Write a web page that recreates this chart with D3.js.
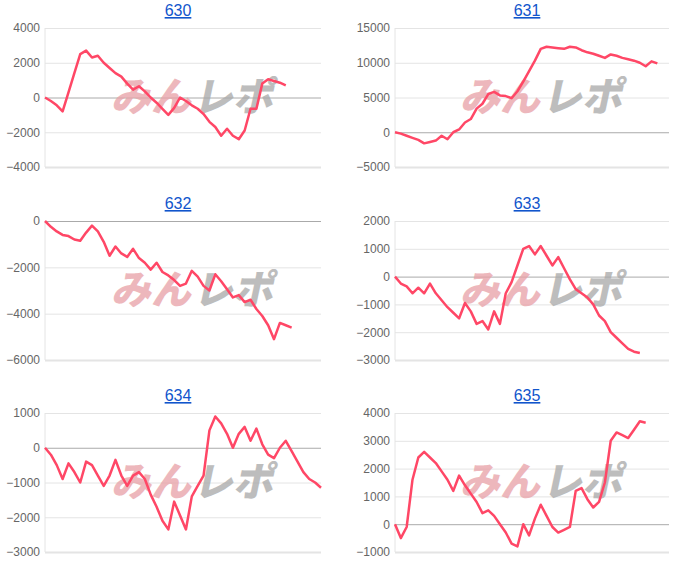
<!DOCTYPE html>
<html>
<head>
<meta charset="utf-8">
<script src="https://cdn.jsdelivr.net/npm/d3@7"></script>
<style>
body { margin: 0; background: #fff; font-family: Arial, "Liberation Sans", sans-serif; }
.title { fill: #1155cc; font-size: 16px; text-decoration: underline; }
.tick text { fill: #666; font-size: 12px; font-family: Arial, "Liberation Sans", sans-serif; }
</style>
</head>
<body>
<div class="container"></div>
<script>
const WIDTH = 700;
const HEIGHT = 576;
const STEPS = 47;

var titles = ["630", "631", "632", "633", "634", "635"];

var ticks630 = [-4000, -2000, 0, 2000, 4000];
var ticks631 = [-5000, 0, 5000, 10000, 15000];
var ticks632 = [-6000, -4000, -2000, 0];
var ticks633 = [-3000, -2000, -1000, 0, 1000, 2000];
var ticks634 = [-3000, -2000, -1000, 0, 1000];
var ticks635 = [-1000, 0, 1000, 2000, 3000, 4000];

var data630 = [0, -200, -450, -800, 300, 1400, 2500, 2700, 2300, 2400, 2000, 1700, 1400, 1200, 800, 450,
    650, 350, 0, -300, -650, -1000, -600, 0, -200, -450, -650, -950, -1400, -1700, -2200, -1800, -2200,
    -2400, -1900, -650, -650, 800, 1050, 950, 850, 700];
var data631 = [0, -200, -500, -800, -1100, -1600, -1400, -1200, -500, -1000, 0, 400, 1400, 1900, 3400, 4100,
    5500, 5800, 5300, 5200, 4900, 5900, 7300, 8800, 10300, 12000, 12300, 12200, 12100, 12000, 12300, 12200,
    11800, 11500, 11300, 11000, 10700, 11200, 11000, 10700, 10500, 10300, 10000, 9500, 10200, 9900];
var data632 = [0, -250, -450, -600, -650, -800, -850, -500, -200, -450, -900, -1500, -1100, -1400, -1550,
    -1200, -1600, -1800, -2100, -1800, -2200, -2350, -2550, -2800, -2700, -2150, -2400, -2800, -3000, -2300,
    -2600, -2950, -3300, -3200, -3500, -3400, -3800, -4100, -4500, -5100, -4400, -4500, -4600];
var data633 = [0, -250, -350, -600, -400, -600, -250, -600, -850, -1100, -1300, -1500, -950, -1250, -1700,
    -1600, -1900, -1250, -1700, -600, -200, 400, 1000, 1100, 800, 1100, 750, 400, 700, 300, -100, -450, -600,
    -750, -1000, -1400, -1600, -2000, -2200, -2400, -2600, -2700, -2750];
var data634 = [0, -200, -500, -900, -450, -700, -1000, -400, -500, -800, -1100, -800, -350, -800, -1100, -800,
    -700, -900, -1350, -1700, -2100, -2350, -1550, -1950, -2350, -1400, -1100, -800, 500, 900, 700, 400, 0, 400, 600,
    200, 550, 100, -200, -300, 0, 200, -100, -400, -700, -900, -1000, -1150];
var data635 = [0, -500, -100, 1600, 2400, 2600, 2400, 2200, 1900, 1600, 1200, 1750, 1400, 1100, 800, 400, 500,
    300, 0, -300, -700, -800, 0, -400, 200, 700, 300, -100, -300, -200, -100, 1200, 1300, 900, 600, 800, 1500,
    3000, 3300, 3200, 3100, 3400, 3700, 3650];

var panels = [
    { title: titles[0], data: data630, ticks: ticks630, x: 45, y: 28, w: 276 },
    { title: titles[1], data: data631, ticks: ticks631, x: 395, y: 28, w: 274 },
    { title: titles[2], data: data632, ticks: ticks632, x: 45, y: 221, w: 276 },
    { title: titles[3], data: data633, ticks: ticks633, x: 395, y: 221, w: 274 },
    { title: titles[4], data: data634, ticks: ticks634, x: 45, y: 413, w: 276 },
    { title: titles[5], data: data635, ticks: ticks635, x: 395, y: 413, w: 274 }
];
var PH = 139;

var svg = d3.select('.container').append('svg')
    .attr('width', WIDTH)
    .attr('height', HEIGHT);

panels.forEach(function (p) {
    var xScale = d3.scaleLinear().domain([0, STEPS]).range([0, p.w]);
    var yScale = d3.scaleLinear().domain(d3.extent(p.ticks)).range([PH, 0]);
    var g = svg.append('g').attr('transform', 'translate(' + p.x + ',' + p.y + ')');

    g.append('text').attr('class', 'title')
        .attr('x', p.w / 2 - 5).attr('y', -12)
        .attr('text-anchor', 'middle')
        .text(p.title);

    var yAxis = d3.axisLeft(yScale).tickValues(p.ticks).tickSize(-p.w).tickPadding(5)
        .tickFormat(d3.format('d'));
    var ax = g.append('g').call(yAxis);
    ax.select('.domain').remove();
    ax.selectAll('.tick line')
        .attr('stroke', function (d) { return d === 0 ? '#aaa' : '#e4e4e4'; })
        .attr('stroke-width', function (d, i) { return i === 0 ? 2 : 1; });
    g.append('line').attr('x1', 0).attr('x2', 0).attr('y1', 0).attr('y2', PH)
        .attr('stroke', '#e4e4e4');

    // watermark
    var wm = g.append('g').attr('transform', 'translate(' + (p.w / 2 + 8) + ',' + (PH / 2 + 13) + ') skewX(-12)')
        .attr('font-size', 40).attr('font-weight', 900)
        .attr('font-family', '"Noto Sans CJK JP", sans-serif')
        .attr('text-anchor', 'middle');
    wm.append('text').attr('x', -40).attr('fill', '#e8a0a6').attr('opacity', 0.75).text('みん');
    wm.append('text').attr('x', 42).attr('fill', '#a8a8a8').attr('opacity', 0.75).text('レポ');

    var line = d3.line()
        .x(function (d, i) { return xScale(i); })
        .y(function (d) { return yScale(d); });
    g.append('path')
        .attr('d', line(p.data))
        .attr('fill', 'none')
        .attr('stroke', '#ff4766')
        .attr('stroke-width', 2.5)
        .attr('stroke-linejoin', 'round');
});
</script>
</body>
</html>
